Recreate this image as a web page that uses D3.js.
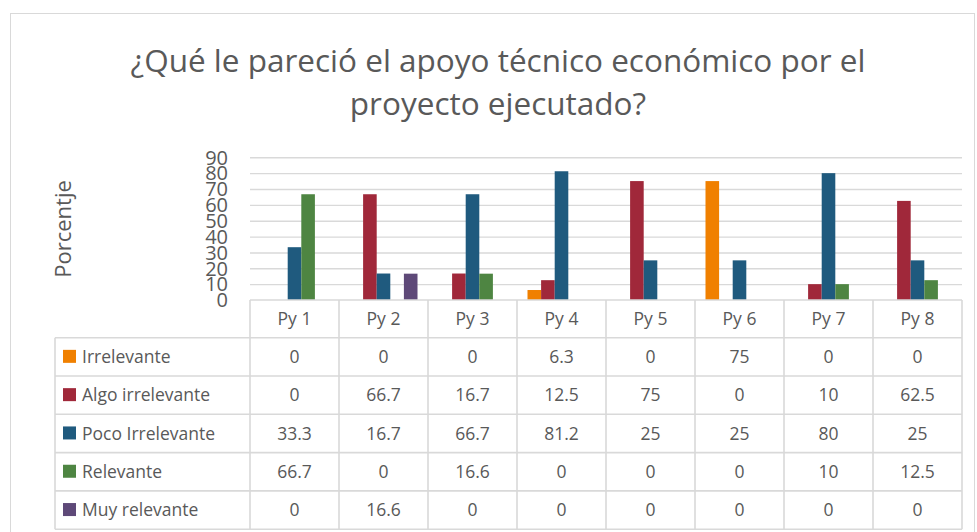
<!DOCTYPE html>
<html>
<head>
<meta charset="utf-8">
<script src="https://cdn.jsdelivr.net/npm/d3@7"></script>
<style>
  body { margin: 0; background: #fff; }
  text { font-family: "Open Sans", sans-serif; fill: #595959; }
</style>
</head>
<body>
<div id="chart-area"></div>
<script>
// data
const categories = ["Py 1", "Py 2", "Py 3", "Py 4", "Py 5", "Py 6", "Py 7", "Py 8"]
const seriesNames = ["Irrelevante", "Algo irrelevante", "Poco Irrelevante", "Relevante", "Muy relevante"]
const irrelevante = [0, 0, 0, 6.3, 0, 75, 0, 0]
const algoIrrelevante = [0, 66.7, 16.7, 12.5, 75, 0, 10, 62.5]
const pocoIrrelevante = [33.3, 16.7, 66.7, 81.2, 25, 25, 80, 25]
const relevante = [66.7, 0, 16.6, 0, 0, 0, 10, 12.5]
const muyRelevante = [0, 16.6, 0, 0, 0, 0, 0, 0]
const yTicks = [0, 10, 20, 30, 40, 50, 60, 70, 80, 90]

const seriesValues = [irrelevante, algoIrrelevante, pocoIrrelevante, relevante, muyRelevante]
const colors = ["#F08000", "#A0283A", "#1F5A7E", "#4E8542", "#5E4978"]

const W = 977, H = 532
const PLOT = { LEFT: 250, RIGHT: 962, TOP: 157.3, BOTTOM: 300 }
const TABLE_LEFT = 55
const HEADER_H = 37.7
const ROW_H = 38.3
const GRID = "#d9d9d9"

const svg = d3.select("#chart-area").append("svg")
  .attr("width", W)
  .attr("height", H)

// chart frame
svg.append("rect")
  .attr("x", 10.5).attr("y", 13.5)
  .attr("width", 964).attr("height", 530)
  .attr("fill", "none")
  .attr("stroke", GRID)
  .attr("stroke-width", 1)

// title
const title = svg.append("text")
  .attr("text-anchor", "middle")
  .attr("font-size", "31.5px")
title.append("tspan").attr("x", 498).attr("y", 72)
  .text("¿Qué le pareció el apoyo técnico económico por el")
title.append("tspan").attr("x", 498).attr("y", 115)
  .text("proyecto ejecutado?")

const x0 = d3.scaleBand()
  .domain(categories)
  .range([PLOT.LEFT, PLOT.RIGHT])

const x1 = d3.scaleBand()
  .domain(seriesNames)
  .range([10.5, x0.bandwidth() - 10.5])

const y = d3.scaleLinear()
  .domain([0, 90])
  .range([PLOT.BOTTOM, PLOT.TOP])

// gridlines
svg.append("g")
  .attr("transform", `translate(${PLOT.LEFT}, 0)`)
  .call(d3.axisLeft(y).tickValues(yTicks.slice(1)).tickSize(-(PLOT.RIGHT - PLOT.LEFT)).tickFormat(""))
  .call(g => g.select(".domain").remove())
  .selectAll("line")
    .attr("stroke", GRID)
    .attr("stroke-width", 1.4)

// y tick labels (they crowd each other in the original too)
svg.append("g")
  .attr("transform", `translate(228, 0)`)
  .call(d3.axisLeft(y).tickValues(yTicks).tickSize(0).tickPadding(0))
  .call(g => g.select(".domain").remove())
  .selectAll("text")
    .attr("font-size", "20px")
    .attr("font-family", "Open Sans, sans-serif")
    .attr("fill", "#595959")
    .attr("dy", "0.34em")

// y axis label
svg.append("text")
  .attr("transform", `translate(71, 229) rotate(-90)`)
  .attr("text-anchor", "middle")
  .attr("font-size", "22px")
  .text("Porcentje")

// bars
const groups = svg.append("g").selectAll("g")
  .data(categories)
  .join("g")
    .attr("transform", d => `translate(${x0(d)}, 0)`)

groups.selectAll("rect")
  .data((d, i) => seriesNames.map((s, j) => ({ s: s, v: seriesValues[j][i], c: colors[j] })))
  .join("rect")
    .attr("x", d => x1(d.s))
    .attr("width", x1.bandwidth())
    .attr("y", d => y(d.v))
    .attr("height", d => y(0) - y(d.v))
    .attr("fill", d => d.c)

// data table
const tbl = svg.append("g")
const tableBottom = PLOT.BOTTOM + HEADER_H + ROW_H * seriesNames.length

// horizontal lines
tbl.append("line")
  .attr("x1", PLOT.LEFT).attr("x2", PLOT.RIGHT)
  .attr("y1", PLOT.BOTTOM).attr("y2", PLOT.BOTTOM)
  .attr("stroke", GRID).attr("stroke-width", 1.6)
d3.range(seriesNames.length + 1).forEach(i => {
  const yy = PLOT.BOTTOM + HEADER_H + i * ROW_H
  tbl.append("line")
    .attr("x1", TABLE_LEFT).attr("x2", PLOT.RIGHT)
    .attr("y1", yy).attr("y2", yy)
    .attr("stroke", GRID).attr("stroke-width", 1.6)
})
// vertical lines
tbl.append("line")
  .attr("x1", TABLE_LEFT).attr("x2", TABLE_LEFT)
  .attr("y1", PLOT.BOTTOM + HEADER_H).attr("y2", tableBottom)
  .attr("stroke", GRID).attr("stroke-width", 1.6)
categories.concat(["end"]).forEach((c, i) => {
  const xx = PLOT.LEFT + i * x0.bandwidth()
  tbl.append("line")
    .attr("x1", xx).attr("x2", xx)
    .attr("y1", PLOT.BOTTOM).attr("y2", tableBottom)
    .attr("stroke", GRID).attr("stroke-width", 1.6)
})

// header
tbl.selectAll(".hdr")
  .data(categories)
  .join("text")
    .attr("class", "hdr")
    .attr("x", d => x0(d) + x0.bandwidth() / 2)
    .attr("y", PLOT.BOTTOM + HEADER_H / 2)
    .attr("dy", "0.36em")
    .attr("text-anchor", "middle")
    .attr("font-size", "17.5px")
    .text(d => d)

// rows
seriesNames.forEach((s, j) => {
  const cy = PLOT.BOTTOM + HEADER_H + j * ROW_H + ROW_H / 2
  tbl.append("rect")
    .attr("x", 63).attr("y", cy - 7)
    .attr("width", 13).attr("height", 13)
    .attr("fill", colors[j])
  tbl.append("text")
    .attr("x", 82).attr("y", cy)
    .attr("dy", "0.36em")
    .attr("font-size", "17.5px")
    .text(s)
  tbl.selectAll(".v" + j)
    .data(seriesValues[j])
    .join("text")
      .attr("x", (d, i) => x0(categories[i]) + x0.bandwidth() / 2)
      .attr("y", cy)
      .attr("dy", "0.36em")
      .attr("text-anchor", "middle")
      .attr("font-size", "17.5px")
      .text(d => String(d))
})
</script>
</body>
</html>
